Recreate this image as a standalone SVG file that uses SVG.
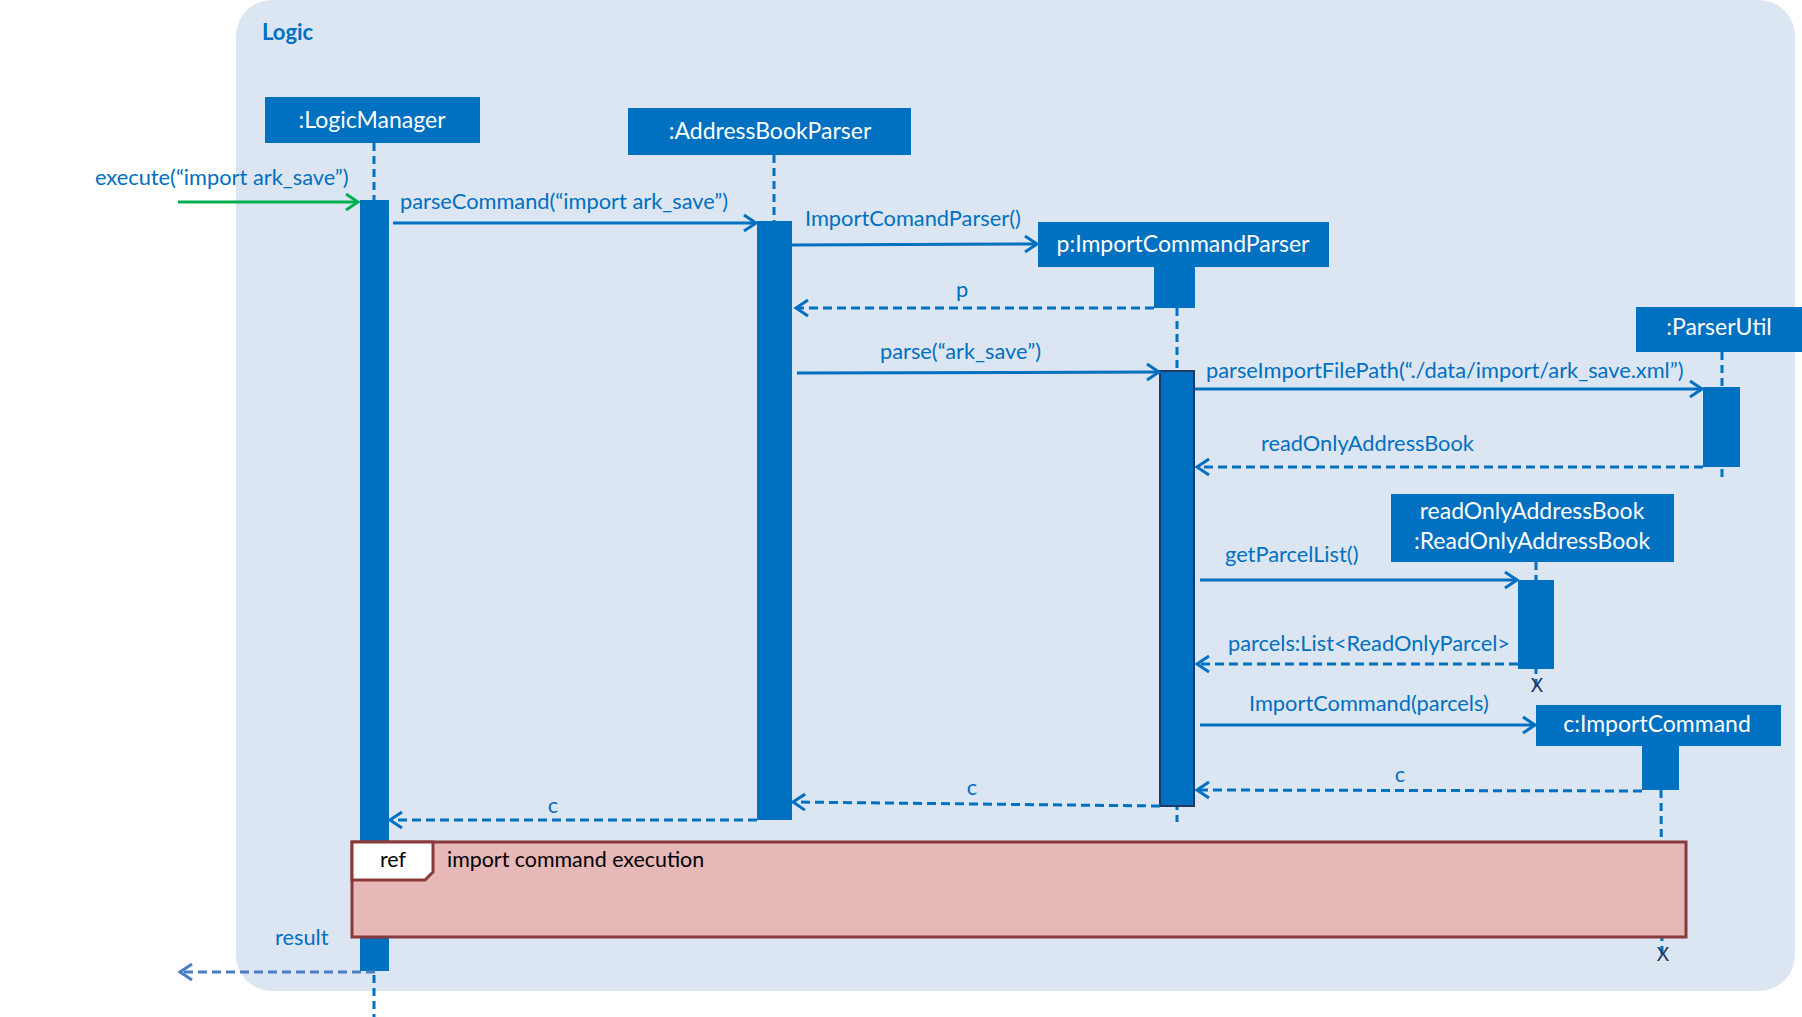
<svg xmlns="http://www.w3.org/2000/svg" width="1802" height="1017" viewBox="0 0 1802 1017">
<style>
text{font-family:Lato,"Open Sans","Liberation Sans",sans-serif}
.box{fill:#0070C0}
.bt{fill:#fff;font-size:23px;text-anchor:middle}
.lbl{fill:#0070C0;font-size:21.8px}
.life{stroke:#0070C0;stroke-width:3;stroke-dasharray:8 5;fill:none}
.act{fill:#0070C0}
.msg{stroke:#0070C0;stroke-width:3;fill:none;marker-end:url(#ah)}
.ret{stroke:#0070C0;stroke-width:3;fill:none;stroke-dasharray:9 5;marker-end:url(#ah)}
.x{fill:#1F3864;font-size:19px;text-anchor:middle}
</style>
<defs>
<marker id="ah" markerUnits="userSpaceOnUse" markerWidth="20" markerHeight="20" viewBox="0 0 20 20" refX="14" refY="10" orient="auto">
<path d="M2,2 L14,10 L2,18" fill="none" stroke="#0070C0" stroke-width="3"/>
</marker>
<marker id="ahg" markerUnits="userSpaceOnUse" markerWidth="20" markerHeight="20" viewBox="0 0 20 20" refX="14" refY="10" orient="auto">
<path d="M2,2 L14,10 L2,18" fill="none" stroke="#00B050" stroke-width="3"/>
</marker>
<marker id="ahr" markerUnits="userSpaceOnUse" markerWidth="20" markerHeight="20" viewBox="0 0 20 20" refX="14" refY="10" orient="auto">
<path d="M2,2 L14,10 L2,18" fill="none" stroke="#4A7EC2" stroke-width="3"/>
</marker>
</defs>
<rect x="0" y="0" width="1802" height="1017" fill="#fff"/>
<g id="logic-frame">
<rect x="236" y="0" width="1559" height="991" rx="36" fill="#DCE6F2"/>
<text x="262" y="40" fill="#0070C0" font-size="22px" font-weight="bold">Logic</text>
</g>
<g id="logicManager">
<rect class="box" x="265" y="97" width="215" height="46"/>
<text class="bt" x="372" y="128">:LogicManager</text>
<line class="life" x1="374" y1="143" x2="374" y2="1017"/>
<rect class="act" x="360" y="200" width="29" height="771"/>
</g>
<g id="addressBookParser">
<rect class="box" x="628" y="108" width="283" height="47"/>
<text class="bt" x="770" y="139">:AddressBookParser</text>
<line class="life" x1="774" y1="155" x2="774" y2="221"/>
<rect class="act" x="757" y="221" width="35" height="599"/>
</g>
<g id="importCommandParser">
<rect class="box" x="1038" y="222" width="291" height="45"/>
<text class="bt" x="1183" y="252">p:ImportCommandParser</text>
<rect class="act" x="1154" y="266" width="41" height="42"/>
<line class="life" x1="1177" y1="308" x2="1177" y2="822"/>
<rect class="act" x="1160" y="371" width="34" height="435" stroke="#1F3864" stroke-width="2"/>
</g>
<g id="parserUtil">
<rect class="box" x="1636" y="307" width="166" height="45"/>
<text class="bt" x="1719" y="335">:ParserUtil</text>
<line class="life" x1="1722" y1="352" x2="1722" y2="478"/>
<rect class="act" x="1703" y="387" width="37" height="80"/>
</g>
<g id="readOnlyAddressBook">
<rect class="box" x="1391" y="494" width="283" height="68"/>
<text class="bt" x="1532" y="519">readOnlyAddressBook</text>
<text class="bt" x="1532" y="549">:ReadOnlyAddressBook</text>
<line class="life" x1="1536" y1="562" x2="1536" y2="690"/>
<rect class="act" x="1518" y="580" width="36" height="89"/>
<text class="x" x="1537" y="692">X</text>
</g>
<g id="importCommand">
<rect class="box" x="1536" y="705" width="245" height="41"/>
<text class="bt" x="1657" y="732">c:ImportCommand</text>
<rect class="act" x="1642" y="745" width="37" height="45"/>
<line class="life" x1="1661" y1="790" x2="1662" y2="958"/>
<text class="x" x="1663" y="961">X</text>
</g>
<g id="connectors">
<line x1="178" y1="202" x2="358" y2="202" stroke="#00B050" stroke-width="3" marker-end="url(#ahg)"/>
<text class="lbl" x="95" y="185">execute(“import ark_save”)</text>
<line class="msg" x1="393" y1="223" x2="756" y2="223"/>
<text class="lbl" x="400" y="209">parseCommand(“import ark_save”)</text>
<line class="msg" x1="792" y1="245" x2="1037" y2="244"/>
<text class="lbl" x="805" y="226">ImportComandParser()</text>
<line class="ret" x1="1154" y1="308" x2="796" y2="308"/>
<text class="lbl" x="962" y="297" text-anchor="middle">p</text>
<line class="msg" x1="797" y1="373" x2="1159" y2="372"/>
<text class="lbl" x="880" y="359">parse(“ark_save”)</text>
<line class="msg" x1="1195" y1="389" x2="1702" y2="389"/>
<text class="lbl" x="1206" y="378">parseImportFilePath(“./data/import/ark_save.xml”)</text>
<line class="ret" x1="1703" y1="467" x2="1197" y2="467"/>
<text class="lbl" x="1261" y="451">readOnlyAddressBook</text>
<line class="msg" x1="1200" y1="580" x2="1517" y2="580"/>
<text class="lbl" x="1225" y="562">getParcelList()</text>
<line class="ret" x1="1518" y1="664" x2="1197" y2="664"/>
<text class="lbl" x="1228" y="651">parcels:List&lt;ReadOnlyParcel&gt;</text>
<line class="msg" x1="1200" y1="725" x2="1535" y2="725"/>
<text class="lbl" x="1249" y="711">ImportCommand(parcels)</text>
<line class="ret" x1="1642" y1="791" x2="1197" y2="790"/>
<text class="lbl" x="1400" y="782" text-anchor="middle">c</text>
<line class="ret" x1="1160" y1="806" x2="793" y2="802"/>
<text class="lbl" x="972" y="795" text-anchor="middle">c</text>
<line class="ret" x1="757" y1="820" x2="390" y2="820"/>
<text class="lbl" x="553" y="813" text-anchor="middle">c</text>
<line x1="375" y1="972" x2="180" y2="972" stroke="#4A7EC2" stroke-width="3" stroke-dasharray="9 5" marker-end="url(#ahr)"/>
<text class="lbl" x="275" y="945">result</text>
</g>
<g id="ref-frame">
<rect x="352" y="842" width="1334" height="95" fill="#E6B8B7" stroke="#8B3A3A" stroke-width="3"/>
<path d="M352,842 H433 V872 L425,880 H352 Z" fill="#fff" stroke="#8B3A3A" stroke-width="3"/>
<text x="393" y="867" font-size="21.4px" text-anchor="middle" fill="#000">ref</text>
<text x="447" y="867" font-size="21.4px" fill="#000">import command execution</text>
</g>
</svg>
